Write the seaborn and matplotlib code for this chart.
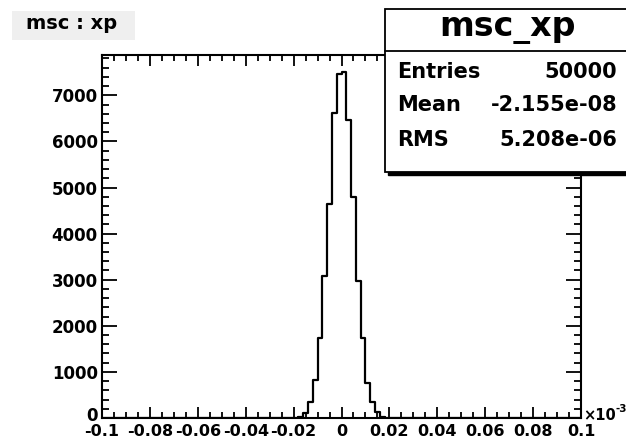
import numpy as np
import pandas as pd
import matplotlib
matplotlib.use("Agg")
import matplotlib.pyplot as plt
from matplotlib.patches import Rectangle
from matplotlib.ticker import MultipleLocator, FixedLocator
from matplotlib.transforms import ScaledTranslation
import seaborn as sns

# ---- data (x in units of 1e-3) ----
bin_centers = [-0.019, -0.017, -0.015, -0.013, -0.011, -0.009, -0.007, -0.005, -0.003, -0.001,
               0.001, 0.003, 0.005, 0.007, 0.009, 0.011, 0.013, 0.015, 0.017, 0.019]
bin_counts = [4, 20, 110, 348, 830, 1740, 3090, 4650, 6610, 7460,
              7500, 6460, 4800, 2980, 1740, 770, 350, 130, 30, 4]
x_range = [-0.1, 0.1]
bin_width = 0.002
x_tick_values = [-0.1, -0.08, -0.06, -0.04, -0.02, 0, 0.02, 0.04, 0.06, 0.08, 0.1]
x_tick_labels = ["-0.1", "-0.08", "-0.06", "-0.04", "-0.02", "0", "0.02", "0.04", "0.06", "0.08", "0.1"]
y_tick_values = [0, 1000, 2000, 3000, 4000, 5000, 6000, 7000]
y_tick_labels = ["0", "1000", "2000", "3000", "4000", "5000", "6000", "7000"]
x_exponent = ["\u00d710", "-3"]
hist_name = "msc_xp"
pad_title = "msc : xp"
stat_names = ["Entries", "Mean", "RMS"]
stat_values = ["50000", "-2.155e-08", "5.208e-06"]

df = pd.DataFrame({"x": bin_centers, "w": bin_counts})

sns.set_theme(style="ticks")
plt.rcParams["font.family"] = ["DejaVu Sans"]
plt.rcParams["font.weight"] = "bold"
plt.rcParams["text.color"] = "black"
plt.rcParams["axes.labelcolor"] = "black"
plt.rcParams["xtick.color"] = "black"
plt.rcParams["ytick.color"] = "black"

W, H = 626, 440
fig = plt.figure(figsize=(W / 100, H / 100), dpi=100)
fig.patch.set_facecolor("white")

def fx(px):
    return px / W

def fy(py):
    return 1 - py / H

L, R, T, B = 102, 581, 55, 418
ax = fig.add_axes([fx(L), fy(B), fx(R) - fx(L), fy(T) - fy(B)])
ax.set_facecolor("white")

sns.histplot(data=df, x="x", weights="w", binwidth=bin_width, binrange=tuple(x_range),
             element="step", fill=False, color="black", linewidth=1.6, ax=ax)

ax.set_xlim(*x_range)
ax.set_ylim(0, max(bin_counts) * 1.05)
ax.set_xlabel("")
ax.set_ylabel("")

ax.xaxis.set_major_locator(FixedLocator(x_tick_values))
ax.set_xticklabels(x_tick_labels)
ax.xaxis.set_minor_locator(MultipleLocator(0.005))
ax.yaxis.set_major_locator(FixedLocator(y_tick_values))
ax.set_yticklabels(y_tick_labels)
ax.yaxis.set_minor_locator(MultipleLocator(200))

ax.tick_params(axis="x", which="major", direction="in", length=8, width=1.3,
               top=True, bottom=True, labelsize=11.5, pad=4, colors="black")
ax.tick_params(axis="x", which="minor", direction="in", length=4, width=1.3,
               top=True, bottom=True, colors="black")
ax.tick_params(axis="y", which="major", direction="in", length=10.5, width=1.3,
               left=True, right=True, labelsize=12, pad=3, colors="black")
ax.tick_params(axis="y", which="minor", direction="in", length=5, width=1.3,
               left=True, right=True, colors="black")
for lab in ax.get_xticklabels() + ax.get_yticklabels():
    lab.set_fontweight("bold")
    lab.set_color("black")
for s in ax.spines.values():
    s.set_linewidth(1.5)
    s.set_color("black")

# nudge the y "0" label up a little so it does not collide with "-0.1"
lab0 = ax.get_yticklabels()[0]
lab0.set_transform(lab0.get_transform() + ScaledTranslation(0, 4 / 100, fig.dpi_scale_trans))

# x-axis exponent
fig.text(fx(583), fy(420), x_exponent[0], fontsize=10.5, fontweight="bold",
         ha="left", va="baseline", color="black")
fig.text(fx(615), fy(412), x_exponent[1], fontsize=7.5, fontweight="bold",
         ha="left", va="baseline", color="black")

# pad title box
fig.add_artist(Rectangle((fx(12), fy(40)), fx(135) - fx(12), fy(11) - fy(40),
                         transform=fig.transFigure, facecolor="#efefef",
                         edgecolor="none", zorder=5))
fig.text(fx(26), fy(29), pad_title, fontsize=14, fontweight="bold",
         ha="left", va="baseline", zorder=6, color="black")

# stats box with shadow (runs off the right edge like the original)
bx0, bx1, by0, by1 = 385, 640, 9, 172
fig.add_artist(Rectangle((fx(bx0 + 3), fy(by1 + 3)), fx(bx1) - fx(bx0), fy(by0) - fy(by1),
                         transform=fig.transFigure, facecolor="black",
                         edgecolor="black", zorder=7))
fig.add_artist(Rectangle((fx(bx0), fy(by1)), fx(bx1) - fx(bx0), fy(by0) - fy(by1),
                         transform=fig.transFigure, facecolor="white",
                         edgecolor="black", linewidth=1.3, zorder=8))
fig.add_artist(plt.Line2D([fx(bx0), fx(bx1)], [fy(51), fy(51)],
                          transform=fig.transFigure, color="black",
                          linewidth=1.3, zorder=9))
fig.text(fx(507), fy(36), hist_name, fontsize=24, fontweight="bold",
         ha="center", va="baseline", zorder=10, color="black")
for name, val, yb in zip(stat_names, stat_values, [78, 111, 146]):
    fig.text(fx(397), fy(yb), name, fontsize=15, fontweight="bold",
             ha="left", va="baseline", zorder=10, color="black")
    fig.text(fx(617), fy(yb), val, fontsize=15, fontweight="bold",
             ha="right", va="baseline", zorder=10, color="black")

fig.savefig("out.png", dpi=100, facecolor="white")
